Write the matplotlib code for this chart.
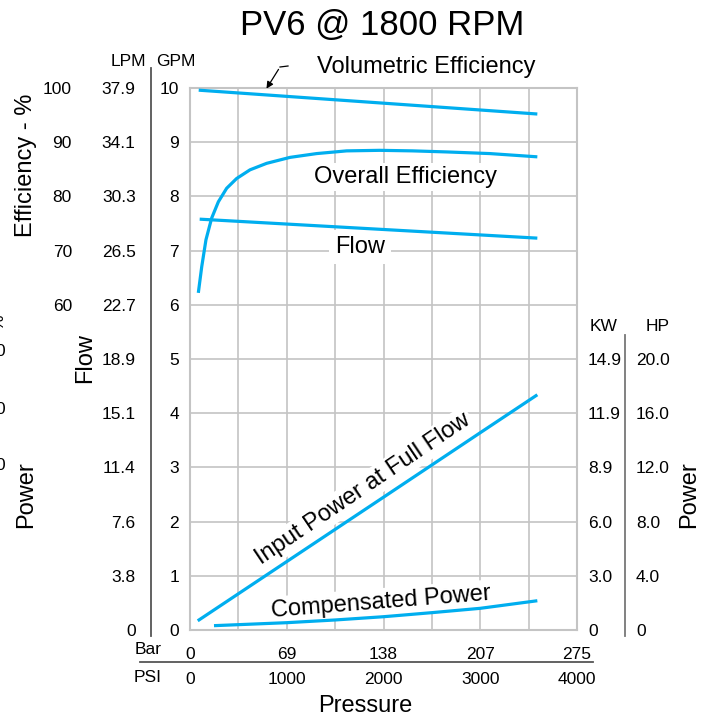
import matplotlib
matplotlib.use("Agg")
import matplotlib.pyplot as plt
from matplotlib.lines import Line2D

plt.rcParams['font.family'] = ['Liberation Sans', 'DejaVu Sans']

# data (x = pressure in PSI)
psi_vol = [90, 2000, 3590]
vol_eff = [99.6, 97.2, 95.2]          # %

psi_overall = [86, 121, 165, 224, 293, 379, 482, 620, 792, 1034, 1309, 1619, 1960, 2300, 2660, 3100, 3590]
overall_eff = [62.2, 67.0, 72.0, 76.0, 79.0, 81.5, 83.3, 84.9, 86.1, 87.2, 87.9, 88.4, 88.5, 88.4, 88.2, 87.9, 87.3]   # %

psi_flow = [100, 3590]
flow_gpm = [7.58, 7.23]

psi_input = [80, 1000, 2000, 3000, 3590]
input_hp = [0.68, 5.05, 9.8, 14.56, 17.36]

psi_comp = [248, 1000, 1500, 2000, 2500, 3000, 3590]
comp_hp = [0.32, 0.54, 0.74, 0.98, 1.28, 1.6, 2.16]

gpm_ticks = [0, 1, 2, 3, 4, 5, 6, 7, 8, 9, 10]
lpm_labels = ['0', '3.8', '7.6', '11.4', '15.1', '18.9', '22.7', '26.5', '30.3', '34.1', '37.9']
eff_ticks = [6, 7, 8, 9, 10]
eff_labels = ['60', '70', '80', '90', '100']
kw_labels = ['0', '3.0', '6.0', '8.9', '11.9', '14.9']
hp_labels = ['0', '4.0', '8.0', '12.0', '16.0', '20.0']
psi_ticks = [0, 1000, 2000, 3000, 4000]
bar_labels = ['0', '69', '138', '207', '275']

W, H = 710, 720
blue = '#00aeef'
grid_c = '#c4c4c4'
dark = '#555555'
fs_tick = 12.5
fs_lab = 17


def fx(px):
    return px / W


def fy(py):
    return 1 - py / H


fig = plt.figure(figsize=(7.1, 7.2), dpi=100)
ax = fig.add_axes([fx(190), fy(630), (577 - 190) / W, (630 - 88) / H])
ax.set_xlim(0, 4000)
ax.set_ylim(0, 10)

ax.set_xticks(psi_ticks)
ax.set_xticklabels(bar_labels, fontsize=fs_tick)
ax.set_xticks(range(500, 4000, 1000), minor=True)
ax.set_yticks(gpm_ticks)
ax.set_yticklabels([str(v) for v in gpm_ticks], fontsize=fs_tick)
ax.tick_params(which='both', length=0)
ax.tick_params(axis='y', pad=8)
ax.tick_params(axis='x', pad=12)
ax.grid(True, which='both', color=grid_c, lw=1.2)
ax.set_axisbelow(True)
for s in ax.spines.values():
    s.set_color(grid_c)
    s.set_linewidth(1.5)

# curves, all drawn on the GPM scale (eff% / 10, HP / 4)
kw_line = dict(color=blue, lw=2.3, solid_capstyle='butt', solid_joinstyle='round', zorder=3)
ax.plot(psi_vol, [v / 10 for v in vol_eff], **kw_line)
ax.plot(psi_overall, [v / 10 for v in overall_eff], **kw_line)
ax.plot(psi_flow, flow_gpm, **kw_line)
ax.plot(psi_input, [v / 4 for v in input_hp], **kw_line)
ax.plot(psi_comp, [v / 4 for v in comp_hp], **kw_line)

# LPM axis
lpm = ax.secondary_yaxis((151 - 190) / 387)
lpm.set_yticks(gpm_ticks)
lpm.set_yticklabels(lpm_labels, fontsize=fs_tick)
lpm.tick_params(length=0, pad=11)
lpm.spines['left'].set_visible(False)

# efficiency axis
eff = ax.secondary_yaxis((72 - 190) / 387)
eff.set_yticks(eff_ticks)
eff.set_yticklabels(eff_labels, fontsize=fs_tick)
eff.tick_params(length=0, pad=0)
eff.spines['left'].set_visible(False)

# KW and HP axes
kw = ax.secondary_yaxis(1.0)
kw.set_yticks(gpm_ticks[:6])
kw.set_yticklabels(kw_labels, fontsize=fs_tick)
kw.tick_params(length=0, pad=8)
kw.spines['right'].set_visible(False)

hp = ax.secondary_yaxis(1 + (625 - 577) / 387)
hp.set_yticks(gpm_ticks[:6])
hp.set_yticklabels(hp_labels, fontsize=fs_tick)
hp.tick_params(length=0, pad=8)
hp.spines['right'].set_visible(False)

# PSI axis
psi = ax.secondary_xaxis(-(662 - 630) / 542)
psi.set_xticks(psi_ticks)
psi.set_xticklabels([str(v) for v in psi_ticks], fontsize=fs_tick)
psi.tick_params(length=0, pad=7)
psi.spines['bottom'].set_visible(False)

# separator lines
fig.add_artist(Line2D([fx(151), fx(151)], [fy(68), fy(636)], color=dark, lw=1.3))
fig.add_artist(Line2D([fx(625), fx(625)], [fy(335), fy(636)], color='#777777', lw=1.3))
fig.add_artist(Line2D([fx(140), fx(593)], [fy(662), fy(662)], color=dark, lw=1.3))

# headers and axis titles
fig.text(fx(128), fy(62), 'LPM', ha='center', va='center', fontsize=fs_tick)
fig.text(fx(176), fy(62), 'GPM', ha='center', va='center', fontsize=fs_tick)
fig.text(fx(604), fy(327), 'KW', ha='center', va='center', fontsize=fs_tick)
fig.text(fx(658), fy(327), 'HP', ha='center', va='center', fontsize=fs_tick)
fig.text(fx(148), fy(650), 'Bar', ha='center', va='center', fontsize=fs_tick)
fig.text(fx(148), fy(677), 'PSI', ha='center', va='center', fontsize=fs_tick)

fig.text(fx(382), fy(25), 'PV6 @ 1800 RPM', ha='center', va='center', fontsize=25)
fig.text(fx(26), fy(165), 'Efficiency - %', rotation=90, ha='center', va='center', fontsize=fs_lab)
fig.text(fx(85), fy(358), 'Flow', rotation=90, ha='center', va='center', fontsize=fs_lab)
fig.text(fx(26), fy(495), 'Power', rotation=90, ha='center', va='center', fontsize=fs_lab)
fig.text(fx(689), fy(495), 'Power', rotation=90, ha='center', va='center', fontsize=fs_lab)
fig.text(fx(365), fy(706), 'Pressure', ha='center', va='center', fontsize=fs_lab)

# cut-off bits at the left edge (the reference is cropped there)
fig.text(fx(6), fy(322), '%', rotation=90, ha='right', va='center', fontsize=fs_tick)
for yy in [352, 410, 466]:
    fig.text(fx(5), fy(yy), '0', ha='right', va='center', fontsize=fs_tick)

# curve labels: white boxes sit over the grid but under the curves
white = dict(facecolor='white', edgecolor='none', pad=2)
tf = fig.transFigure
fig.text(fx(426), fy(67), 'Volumetric Efficiency', ha='center', va='center', fontsize=fs_lab)
ax.text(fx(405), fy(177), 'Overall Efficiency', transform=tf, ha='center', va='center',
        fontsize=fs_lab, bbox=white, zorder=2)
ax.text(fx(360), fy(247), 'Flow', transform=tf, ha='center', va='center', fontsize=fs_lab,
        bbox=dict(facecolor='white', edgecolor='none', pad=4), zorder=2)
ax.text(fx(363), fy(489), 'Input Power at Full Flow', transform=tf, rotation=34, ha='center',
        va='center', rotation_mode='anchor', fontsize=fs_lab, bbox=white, zorder=2)
ax.text(fx(381), fy(602), 'Compensated Power', transform=tf, rotation=4.5, ha='center',
        va='center', rotation_mode='anchor', fontsize=fs_lab, bbox=white, zorder=2)

# pointer arrow for volumetric efficiency
fig.add_artist(Line2D([fx(288), fx(280)], [fy(66), fy(67)], color='black', lw=0.9))
ax.annotate('', xy=(fx(265), fy(91)), xycoords='figure fraction',
            xytext=(fx(280), fy(67)), textcoords='figure fraction',
            arrowprops=dict(arrowstyle='-|>', color='black', lw=0.9, mutation_scale=10),
            zorder=4)

fig.savefig('out.png', dpi=100)
